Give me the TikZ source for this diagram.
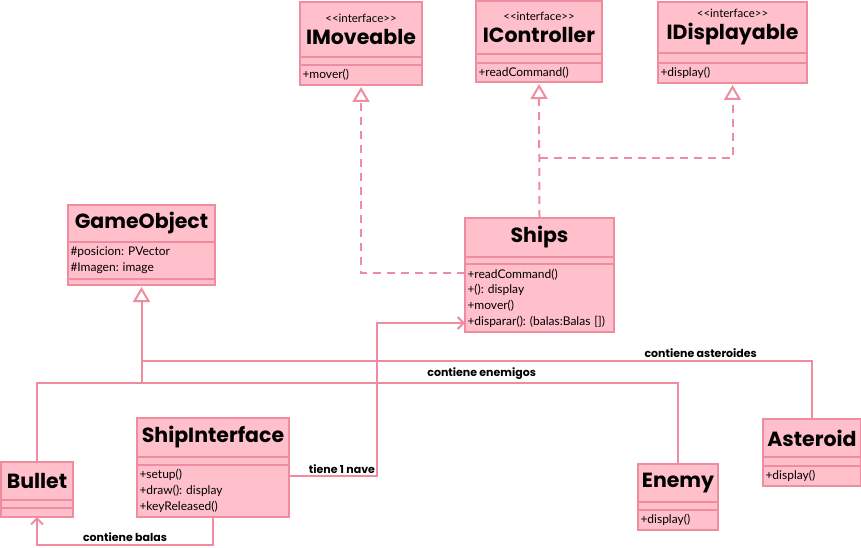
\documentclass[tikz,border=0pt]{standalone}
\usepackage{fontspec}
\setmainfont{Lato}
\newfontfamily\titlefont{Poppins}
\usepackage{tikz}
\usetikzlibrary{arrows.meta, positioning}
\usepackage{xcolor}
\definecolor{umlline}{RGB}{240,140,160}
\definecolor{umlfill}{RGB}{255,192,203}
\newcommand{\stereotag}[1]{{\normalfont\fontsize{11.5}{13}\selectfont <{}<#1>{}>}}
\frenchspacing

\begin{document}
\begin{tikzpicture}[x=1pt, y=-1pt,
    classbox/.style={draw=umlline, fill=umlfill, line width=2pt, outer sep=0pt,
      inner xsep=2.5pt, inner ysep=0pt, anchor=north west},
    classhead/.style={classbox, align=center, font=\titlefont\bfseries\fontsize{20.5}{22}\selectfont},
    classmeth/.style={classbox, align=left, font=\fontsize{12}{15.7}\selectfont},
    realize/.style={draw=umlline, line width=2pt, dash pattern=on 8pt off 6pt,
      -{Triangle[fill=white, width=17pt, length=15pt, sep=2pt]}},
    inherit/.style={draw=umlline, line width=2pt},
    assoc/.style={draw=umlline, line width=2pt, -{Straight Barb[length=6pt, width=12pt]}},
    linklabel/.style={font=\titlefont\bfseries\fontsize{11}{12}\selectfont, inner sep=1pt}]
  \useasboundingbox (0,0) rectangle (861,548);

  % interfaces on top
  \node[classhead, text width=117pt, minimum height=55pt] (imov-h) at (300,2)
    {\stereotag{interface}\\IMoveable};
  \node[classbox, text width=117pt, minimum height=8pt, below=0pt of imov-h] (imov-a) {};
  \node[classmeth, text width=117pt, minimum height=20pt, below=0pt of imov-a] (imov-m) {+mover()};

  \node[classhead, text width=121pt, minimum height=53pt] (ictrl-h) at (476,1)
    {\stereotag{interface}\\IController};
  \node[classbox, text width=121pt, minimum height=9pt, below=0pt of ictrl-h] (ictrl-a) {};
  \node[classmeth, text width=121pt, minimum height=19pt, below=0pt of ictrl-a] (ictrl-m) {+readCommand()};

  \node[classhead, text width=144pt, minimum height=51pt] (idisp-h) at (658,2)
    {\stereotag{interface}\\IDisplayable};
  \node[classbox, text width=144pt, minimum height=10pt, below=0pt of idisp-h] (idisp-a) {};
  \node[classmeth, text width=144pt, minimum height=20pt, below=0pt of idisp-a] (idisp-m) {+display()};

  % classes
  \node[classhead, text width=142pt, minimum height=37pt] (gobj-h) at (68,205) {GameObject};
  \node[classmeth, text width=142pt, minimum height=37pt, below=0pt of gobj-h] (gobj-a)
    {\#posicion: PVector\\\#Imagen: image};
  \node[classbox, text width=142pt, minimum height=6pt, below=0pt of gobj-a] (gobj-m) {};

  \node[classhead, text width=144pt, minimum height=39pt] (ships-h) at (465,218) {Ships};
  \node[classbox, text width=144pt, minimum height=7pt, below=0pt of ships-h] (ships-a) {};
  \node[classmeth, text width=144pt, minimum height=68pt, below=0pt of ships-a] (ships-m)
    {+readCommand()\\+(): display\\+mover()\\\mbox{+disparar(): (balas:Balas [])}};

  \node[classhead, text width=67pt, minimum height=38pt] (bullet-h) at (1,462) {Bullet};
  \node[classbox, text width=67pt, minimum height=8pt, below=0pt of bullet-h] (bullet-a) {};
  \node[classbox, text width=67pt, minimum height=9pt, below=0pt of bullet-a] (bullet-m) {};

  \node[classhead, text width=147pt, minimum height=39pt] (shipi-h) at (137,418) {ShipInterface};
  \node[classbox, text width=147pt, minimum height=8pt, below=0pt of shipi-h] (shipi-a) {};
  \node[classmeth, text width=147pt, minimum height=52pt, below=0pt of shipi-a] (shipi-m)
    {+setup()\\+draw(): display\\+keyReleased()};

  \node[classhead, text width=75pt, minimum height=38pt] (enemy-h) at (638,464) {Enemy};
  \node[classbox, text width=75pt, minimum height=8pt, below=0pt of enemy-h] (enemy-a) {};
  \node[classmeth, text width=75pt, minimum height=20pt, below=0pt of enemy-a] (enemy-m) {+display()};

  \node[classhead, text width=93pt, minimum height=38pt] (ast-h) at (763,419) {Asteroid};
  \node[classbox, text width=93pt, minimum height=9pt, below=0pt of ast-h] (ast-a) {};
  \node[classmeth, text width=93pt, minimum height=20pt, below=0pt of ast-a] (ast-m) {+display()};

  % realizations
  \draw[realize] ([yshift=-9pt]ships-m.north west) -| (imov-m.south);
  \draw[realize] (ships-h.north) -- (ictrl-m.south);
  \draw[realize] (ships-h.north) ++(0,-60) -| (idisp-m.south);

  % generalization to GameObject
  \coordinate (genbus) at (141.5,383);
  \coordinate (astbus) at (141.5,361);
  \draw[inherit, -{Triangle[fill=white, width=17pt, length=15pt, sep=2pt]}] (genbus) -- (gobj-m.south);
  \draw[inherit] (bullet-h.north) |- (genbus) -| node[pos=0.317, above=1pt, linklabel] {contiene enemigos} (enemy-h.north);
  \draw[inherit] (ast-h.north) |- node[pos=0.583, above=1pt, linklabel] {contiene asteroides} (astbus);

  % associations
  \draw[assoc] ([yshift=-11pt]shipi-m.north east) -- ++(88,0) node[anchor=south east, linklabel] {tiene 1 nave}
    |- ([yshift=9pt]ships-m.south west);
  \draw[assoc] (shipi-m.south) |- node[pos=0.75, above=1pt, linklabel] {contiene balas}
    ([yshift=-28pt]bullet-m.south) -- (bullet-m.south);
\end{tikzpicture}
\end{document}
